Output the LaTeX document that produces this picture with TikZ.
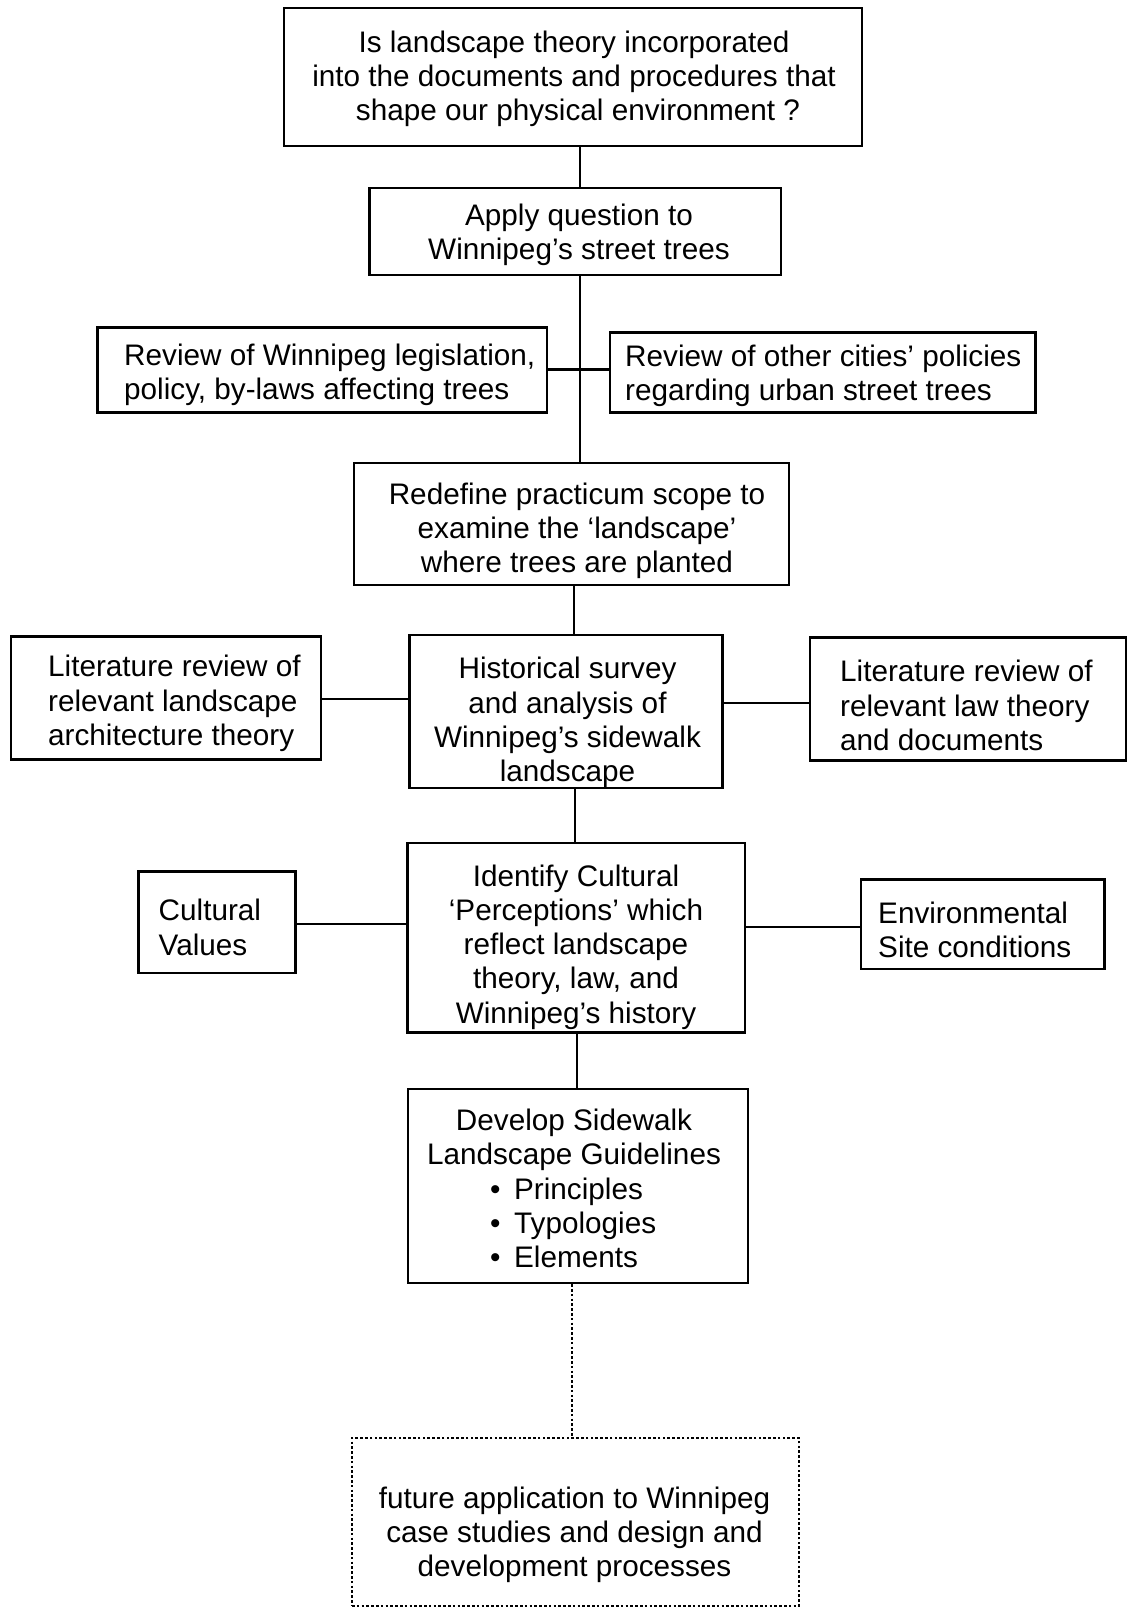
\documentclass[tikz,border=0pt]{standalone}
\usepackage{fontspec}
\setmainfont{Liberation Sans}
\begin{document}
\begin{tikzpicture}[x=1pt,y=-1pt,
  box/.style={draw=black,line width=2.3pt,rectangle,inner sep=0pt},
  dotbox/.style={draw=black,line width=2.7pt,rectangle,inner sep=0pt,dash pattern=on 2.6pt off 2.2pt},
  txt/.style={inner sep=0pt,font=\fontsize{29.7pt}{34.3pt}\selectfont,align=center},
  ltxt/.style={txt,align=left,anchor=west},
  link/.style={draw=black,line width=2.2pt},
  dotlink/.style={draw=black,line width=2.7pt,dash pattern=on 2.6pt off 2.2pt}]
\useasboundingbox (0,0) rectangle (1128,1609);
\fill[white] (0,0) rectangle (1128,1609);

% boxes
\node[box,minimum width=577.9pt,minimum height=137.5pt] (b1) at (573.25,77) {};
\node[box,minimum width=411.6pt,minimum height=87.3pt] (b2) at (575.3,231.5) {};
\node[box,minimum width=449.6pt,minimum height=85.2pt] (b3l) at (322.3,370) {};
\node[box,minimum width=425.9pt,minimum height=80pt] (b3r) at (822.65,372.6) {};
\node[box,minimum width=435.2pt,minimum height=122.1pt] (b4) at (571.7,523.95) {};
\node[box,minimum width=310pt,minimum height=123.1pt] (b5l) at (166.3,697.95) {};
\node[box,minimum width=313.1pt,minimum height=153pt] (b5m) at (566.05,711.8) {};
\node[box,minimum width=316.2pt,minimum height=123.2pt] (b5r) at (967.9,699) {};
\node[box,minimum width=157pt,minimum height=101.6pt] (b6l) at (217.1,922.2) {};
\node[box,minimum width=337.7pt,minimum height=189.9pt] (b6m) at (576.35,937.65) {};
\node[box,minimum width=243.2pt,minimum height=89.3pt] (b6r) at (982.8,924.25) {};
\node[box,minimum width=340pt,minimum height=194pt] (b7) at (578,1186) {};
\node[dotbox,minimum width=447pt,minimum height=168pt] (b8) at (575.5,1522) {};

% texts
\node[txt] (t1) at (574,78.7) {Is landscape theory incorporated\\into the documents and procedures that\\\hspace{8pt}shape our physical environment ?};
\node[txt] (t2) at (579,235) {Apply question to\\Winnipeg’s street trees};
\node[ltxt] (t3l) at (124,374.5) {Review of Winnipeg legislation,\\policy, by-laws affecting trees};
\node[ltxt] (t3r) at (625,375.5) {Review of other cities’ policies\\regarding urban street trees};
\node[txt] (t4) at (577,531) {Redefine practicum scope to\\examine the ‘landscape’\\where trees are planted};
\node[ltxt] (t5l) at (48,703.5) {Literature review of\\relevant landscape\\architecture theory};
\node[txt] (t5m) at (567.5,722.5) {Historical survey\\and analysis of\\Winnipeg’s sidewalk\\landscape};
\node[ltxt] (t5r) at (840,705.5) {Literature review of\\relevant law theory\\and documents};
\node[ltxt] (t6l) at (158.5,927.5) {Cultural\\Values};
\node[txt] (t6m) at (576,947) {Identify Cultural\\‘Perceptions’ which\\reflect landscape\\theory, law, and\\Winnipeg’s history};
\node[ltxt] (t6r) at (878,930) {Environmental\\Site conditions};
\node[txt] (t7) at (574,1188.5) {Develop Sidewalk\\Landscape Guidelines\\
  \makebox[167.6pt][l]{•\hspace{13.6pt}Principles}\\
  \makebox[167.6pt][l]{•\hspace{13.6pt}Typologies}\\
  \makebox[167.6pt][l]{•\hspace{13.6pt}Elements}};
\node[txt] (t8) at (574.5,1535) {future application to Winnipeg\\case studies and design and\\development processes};

% spine coordinates
\coordinate (v1) at (580,0);
\coordinate (v2) at (580,0);
\coordinate (v3) at (574,0);
\coordinate (v4) at (575,0);
\coordinate (v5) at (577,0);
\coordinate (v6) at (572,0);
\coordinate (h3) at (0,369.5);
\coordinate (h5l) at (0,699);
\coordinate (h5r) at (0,703);
\coordinate (h6l) at (0,924);
\coordinate (h6r) at (0,927);

% connectors
\draw[link] (b1.south -| v1) -- (b2.north -| v1);
\draw[link] (b2.south -| v2) -- (b4.north -| v2);
\draw[link] (b3l.east |- h3) -- (b3r.west |- h3);
\draw[link] (b4.south -| v3) -- (b5m.north -| v3);
\draw[link] (b5l.east |- h5l) -- (b5m.west |- h5l);
\draw[link] (b5m.east |- h5r) -- (b5r.west |- h5r);
\draw[link] (b5m.south -| v4) -- (b6m.north -| v4);
\draw[link] (b6l.east |- h6l) -- (b6m.west |- h6l);
\draw[link] (b6m.east |- h6r) -- (b6r.west |- h6r);
\draw[link] (b6m.south -| v5) -- (b7.north -| v5);
\draw[dotlink] (b7.south -| v6) -- (b8.north -| v6);
\end{tikzpicture}
\end{document}
